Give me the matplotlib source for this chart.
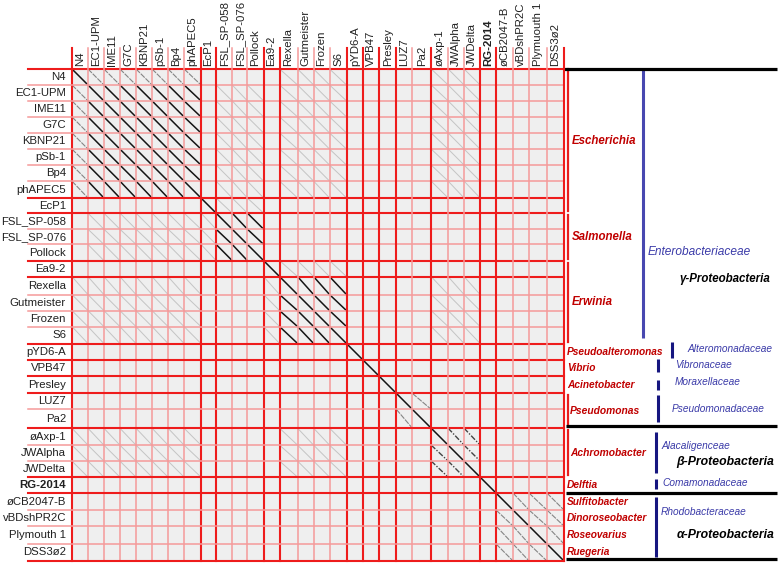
import matplotlib
matplotlib.use("Agg")
import numpy as np
from matplotlib import pyplot as plt

plt.rcParams["font.family"] = ["Liberation Sans", "DejaVu Sans"]

# phage genomes, in plot order
phages = ["N4", "EC1-UPM", "IME11", "G7C", "KBNP21", "pSb-1", "Bp4", "phAPEC5", "EcP1",
          "FSL_SP-058", "FSL_SP-076", "Pollock", "Ea9-2", "Rexella", "Gutmeister", "Frozen", "S6",
          "pYD6-A", "VPB47", "Presley", "LUZ7", "Pa2", "øAxp-1", "JWAlpha", "JWDelta", "RG-2014",
          "øCB2047-B", "vBDshPR2C", "Plymouth 1", "DSS3ø2"]
col_labels = phages[:28] + ["Plymuouth 1", "DSS3ø2"]
bold_names = ["RG-2014"]

# genome lengths (kb)
genome_kb = [70.2, 70.0, 70.4, 70.7, 70.6, 70.3, 70.5, 74.2, 66.4, 70.6, 66.9, 71.2, 70.3,
             79.0, 70.5, 70.1, 74.4, 74.0, 70.6, 74.5, 70.3, 82.8, 74.4, 70.0, 70.5, 70.2,
             74.5, 70.4, 78.6, 74.8]

# similarity clusters and the strength of the diagonal between clusters (1 faint .. 4 black)
cluster = [0, 1, 1, 1, 1, 1, 1, 1, 2, 3, 3, 3, 4, 5, 5, 5, 5, 6, 7, 8, 9, 9, 10, 10, 10, 11,
           12, 12, 12, 12]
links = [(0, 1, 2), (1, 1, 4), (3, 3, 4), (5, 5, 4), (9, 9, 2), (10, 10, 3), (12, 12, 2),
         (0, 5, 1), (1, 5, 1), (0, 10, 1), (1, 10, 1), (5, 10, 1), (4, 5, 1), (2, 3, 1),
         (1, 3, 1)]

# boundaries drawn as bright red lines (index of the first genome of a block)
bright = [0, 8, 9, 12, 13, 17, 18, 19, 20, 22, 25, 26, 30]

# genus annotation: name, first row, last row, font size
genera = [("Escherichia", 0, 8, 8.3), ("Salmonella", 9, 11, 8.3), ("Erwinia", 12, 16, 8.3),
          ("Pseudoalteromonas", 17, 17, 7.3), ("Vibrio", 18, 18, 7.3),
          ("Acinetobacter", 19, 19, 7.3), ("Pseudomonas", 20, 21, 7.4),
          ("Achromobacter", 22, 24, 7.4), ("Delftia", 25, 25, 7.3),
          ("Sulfitobacter", 26, 26, 7.3), ("Dinoroseobacter", 27, 27, 7.3),
          ("Roseovarius", 28, 28, 7.3), ("Ruegeria", 29, 29, 7.3)]

# family annotation: name, bracket x, bracket y0, y1, label x, label y
families = [("Enterobacteriaceae", 643, 69, 338, 648, 252),
            ("Alteromonadaceae", 672, 342, 358, 688, 349),
            ("Vibronaceae", 658, 359, 372, 675, 365),
            ("Moraxellaceae", 658, 380, 390, 675, 382),
            ("Pseudomonadaceae", 658, 395, 422, 672, 409),
            ("Alacaligenceae", 656, 432, 473, 662, 446),
            ("Comamonadaceae", 656, 479, 489, 662, 483),
            ("Rhodobacteraceae", 656, 497, 557, 661, 512)]
classes = [("γ-Proteobacteria", 770, 279, 8.3), ("β-Proteobacteria", 774, 462, 8.8),
           ("α-Proteobacteria", 775, 535, 8.8)]
class_rules = [69, 426, 493, 559]

left, top, size = 72, 69, 492
edges = np.concatenate([[0], np.cumsum(genome_kb)])
edges = edges / edges[-1] * size
xe = left + edges
ye = top + edges
n = len(phages)

level = {}
for a, b, v in links:
    level[(a, b)] = v
    level[(b, a)] = v

styles = {
    4: dict(color="#151515", lw=1.1),
    3: dict(color="#454545", lw=1.0, ls=(0, (4, 1.2, 1, 1.2))),
    2: dict(color="#858585", lw=0.8, ls=(0, (5, 1))),
    1: dict(color="#c4c4c4", lw=0.7),
}

fig = plt.figure(figsize=(7.78, 5.63), dpi=100)
ax = fig.add_axes([0, 0, 1, 1])
ax.set_xlim(0, 778)
ax.set_ylim(563, 0)
ax.axis("off")

ax.add_patch(plt.Rectangle((xe[0], ye[0]), size, size, color="#efefef", lw=0, zorder=0))

for i in range(n):
    for j in range(n):
        v = 4 if i == j else level.get((cluster[i], cluster[j]), 0)
        if v:
            ax.plot([xe[j], xe[j + 1]], [ye[i], ye[i + 1]], zorder=2, **styles[v])

for k in range(n + 1):
    if k in bright:
        c, w = "#ee1c1c", 1.5
    else:
        c, w = "#f59a9a", 1.1
    ax.plot([xe[k], xe[k]], [48, ye[-1]], color=c, lw=w, zorder=3)
    ax.plot([28, xe[-1]], [ye[k], ye[k]], color=c, lw=w, zorder=3)

for k, name in enumerate(phages):
    wt = "bold" if name in bold_names else "normal"
    ax.text(66, (ye[k] + ye[k + 1]) / 2, name, ha="right", va="center", fontsize=8.2,
            color="#202020", fontweight=wt)
    ax.text((xe[k] + xe[k + 1]) / 2, 66, col_labels[k], ha="center", va="bottom",
            rotation=90, fontsize=8.2, color="#202020", fontweight=wt)

# genus brackets and labels
for name, r0, r1, fs in genera:
    yc = (ye[r0] + ye[r1 + 1]) / 2
    if r1 > r0:
        ax.plot([568, 568], [ye[r0] + (0 if r0 == 0 else 2), ye[r1 + 1] - 2],
                color="#e81e1e", lw=1.6)
        tx = 572 if fs > 8 else 570
    else:
        tx = 567
    ax.text(tx, yc, name, ha="left", va="center", fontsize=fs,
            color="#c00000", fontweight="bold", fontstyle="italic")

for name, bx, y0, y1, tx, ty in families:
    top_fam = y0 == 69
    lc = "#4848b0" if top_fam else "#161680"
    ax.plot([bx, bx], [y0, y1], color=lc, lw=2.2, solid_capstyle="butt")
    ax.text(tx, ty, name, ha="left", va="center", fontsize=8.6 if top_fam else 7.3,
            color="#3a3aa8", fontstyle="italic")

for name, tx, ty, fs in classes:
    ax.text(tx, ty, name, ha="right", va="center", fontsize=fs, color="black",
            fontweight="bold", fontstyle="italic")

for y in class_rules:
    ax.plot([566 if y > 69 else xe[-1], 777], [y, y], color="black", lw=2.3,
            solid_capstyle="butt")

fig.savefig("out.png", dpi=100)
